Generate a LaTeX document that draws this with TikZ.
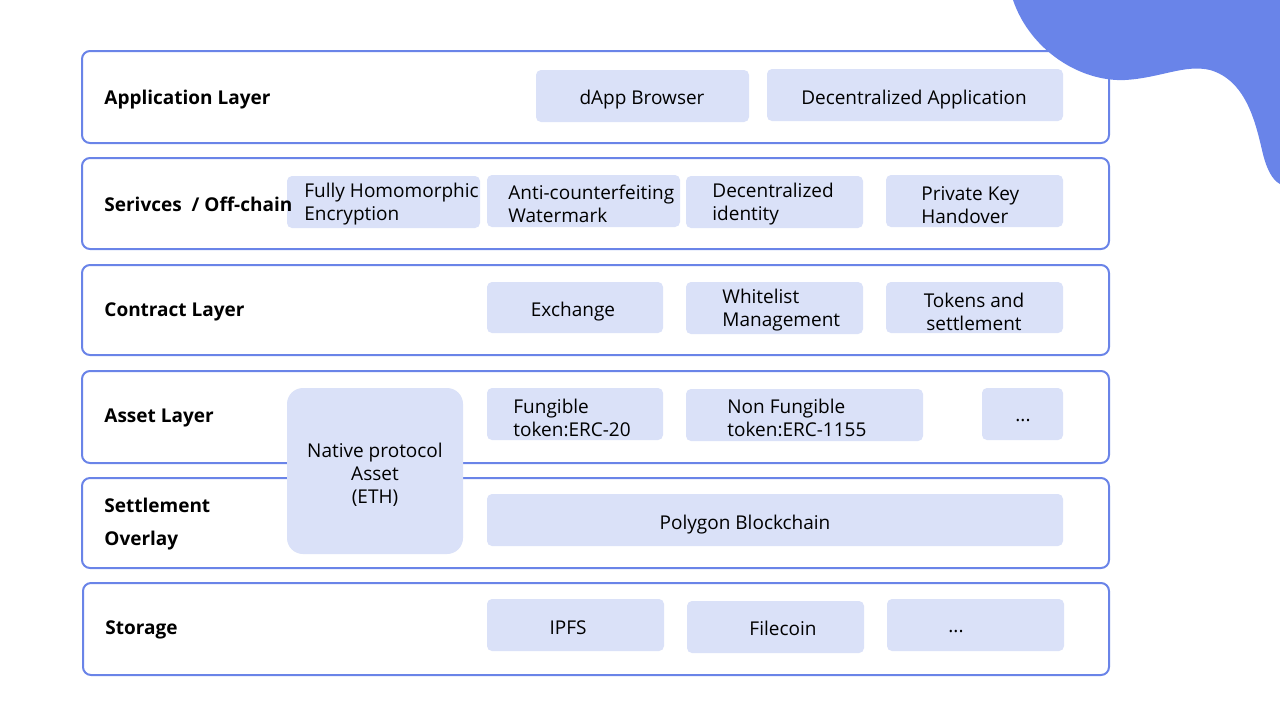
\documentclass[tikz,border=0pt]{standalone}
\usepackage{fontspec}
\setmainfont{Open Sans}
\definecolor{edgec}{HTML}{6A84E8}
\definecolor{boxc}{HTML}{DAE1F8}
\definecolor{blobc}{HTML}{6984E9}
\tikzset{
  layer/.style={draw=edgec, line width=1pt, fill=white, rounded corners=4pt},
  ibox/.style={fill=boxc, rounded corners=2.5pt},
  lbl/.style={font=\fontsize{9.5}{11.5}\selectfont\bfseries, anchor=west, inner sep=0, yshift=-1.5pt},
  txt/.style={font=\fontsize{9.5}{11.5}\selectfont, inner sep=0, align=center, yshift=-1.5pt},
  ltxt/.style={font=\fontsize{9.5}{11.5}\selectfont, inner sep=0, align=left, anchor=west, yshift=-1.5pt},
}
\begin{document}
\begin{tikzpicture}[x=0.5pt,y=-0.5pt]
\useasboundingbox (0,0) rectangle (1280,720);
% layers
\path[layer] (82,51) rectangle (1109,143);
\path[layer] (82,158) rectangle (1109,249);
\path[layer] (82,265) rectangle (1109,355);
\path[layer] (82,371) rectangle (1109,463);
\path[layer] (82,478) rectangle (1109,568);
\path[layer] (83,583) rectangle (1109,675);
% application
\path[ibox] (536,70) rectangle (749,122);
\node[txt] (dapp) at (642,97) {dApp Browser};
\path[ibox] (767,69) rectangle (1063,121);
\node[txt] (dapps) at (914,97) {Decentralized Application};
% services
\path[ibox] (287,176) rectangle (480,228);
\node[ltxt] (fhe) at (304,201.5) {Fully Homomorphic\\Encryption};
\path[ibox] (487,175) rectangle (680,227);
\node[ltxt] (acw) at (508,201) {Anti-counterfeiting\\Watermark};
\path[ibox] (686,176) rectangle (863,228);
\node[ltxt] (did) at (712,201) {Decentralized\\identity};
\path[ibox] (886,175) rectangle (1063,227);
\node[ltxt] (pkh) at (921,202) {Private Key\\Handover};
% contract
\path[ibox] (487,282) rectangle (663,333);
\node[txt] (exch) at (573,309) {Exchange};
\path[ibox] (686,282) rectangle (863,334);
\node[ltxt] (wl) at (722,307.5) {Whitelist\\Management};
\path[ibox] (886,282) rectangle (1063,333);
\node[txt] (tok) at (974,309) {Tokens and\\settlement};
% asset
\path[ibox] (487,388) rectangle (663,440);
\node[ltxt] (fung) at (513,415) {Fungible\\token:ERC-20};
\path[ibox] (686,389) rectangle (923,441);
\node[ltxt] (nft) at (727,415) {Non Fungible\\token:ERC-1155};
\path[ibox] (982,388) rectangle (1063,440);
\node[txt] (adots) at (1023,417) {...};
% settlement
\path[ibox] (487,494) rectangle (1063,546);
\node[txt] (poly) at (745,522) {Polygon Blockchain};
% native (spans two layers)
\path[fill=boxc, rounded corners=8pt] (287,388) rectangle (463,554);
\node[txt] (nat) at (375,472) {Native protocol\\Asset\\(ETH)};
% storage
\path[ibox] (487,599) rectangle (664,651);
\node[txt] (ipfs) at (568,625) {IPFS};
\path[ibox] (687,601) rectangle (864,653);
\node[txt] (fil) at (783,625) {Filecoin};
\path[ibox] (887,599) rectangle (1064,651);
\node[txt] (sdots) at (956,628) {...};
% layer labels (drawn on top)
\node[lbl] (lapp) at (104,97) {Application Layer};
\node[lbl] (lsrv) at (104,201) {Serivces\ \ / Off-chain};
\node[lbl] (lcon) at (104,309) {Contract Layer};
\node[lbl] (last) at (104,415) {Asset Layer};
\node[lbl] (lset1) at (104,502) {Settlement};
\node[lbl] (lset2) at (104,538) {Overlay};
\node[lbl] (lsto) at (105,627) {Storage};
% blob
\fill[blobc] (1013,0) .. controls (1030,50) and (1080,82) .. (1125,80)
  .. controls (1160,78) and (1185,64) .. (1210,70)
  .. controls (1245,80) and (1255,120) .. (1262,150)
  .. controls (1266,168) and (1272,180) .. (1280,184) -- (1280,0) -- cycle;
\end{tikzpicture}
\end{document}
